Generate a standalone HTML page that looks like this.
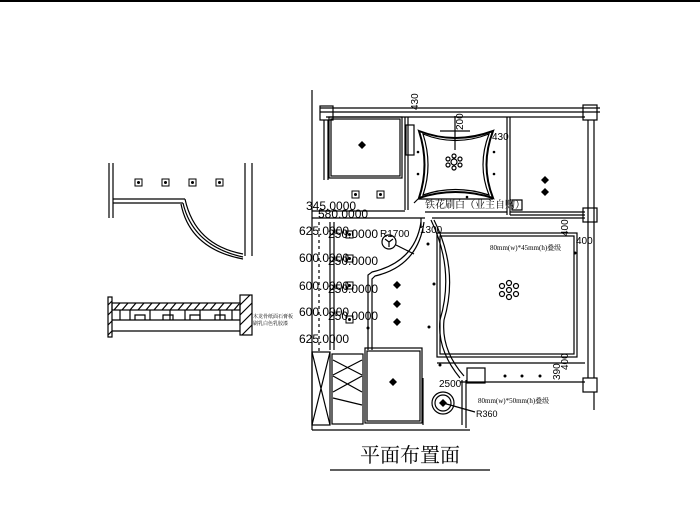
<!DOCTYPE html>
<html><head><meta charset="utf-8"><style>
html,body{margin:0;padding:0;background:#fff;}
svg{display:block;}
text{font-family:"Liberation Sans",sans-serif;fill:#000;}
.cn{font-family:"Liberation Serif","Noto Serif CJK SC",serif;}
</style></head><body>
<svg width="700" height="527" viewBox="0 0 700 527" xmlns="http://www.w3.org/2000/svg" fill="none" stroke="#000" stroke-width="1.2">
<line x1="0" y1="1" x2="700" y2="1" stroke-width="2"/>
<line x1="109" y1="163" x2="109" y2="218"/><line x1="113" y1="163" x2="113" y2="218"/>
<line x1="245" y1="163" x2="245" y2="256"/><line x1="252" y1="163" x2="252" y2="256"/>
<line x1="113" y1="199" x2="185" y2="199"/><line x1="113" y1="203" x2="183" y2="203"/>
<path d="M185 199 Q195 245 243 254"/><path d="M183 203 Q193 246 243 257"/><path d="M181 204 Q190 249 243 259"/>
<g stroke-width="1"><rect x="135" y="179" width="7" height="7"/><rect x="162" y="179" width="7" height="7"/><rect x="189" y="179" width="7" height="7"/><rect x="216" y="179" width="7" height="7"/></g>
<g fill="#000" stroke="none"><circle cx="138.5" cy="182.5" r="1.5"/><circle cx="165.5" cy="182.5" r="1.5"/><circle cx="192.5" cy="182.5" r="1.5"/><circle cx="219.5" cy="182.5" r="1.5"/></g>
<rect x="108" y="297" width="4" height="40"/><rect x="240" y="295" width="12" height="40"/>
<rect x="112" y="303" width="128" height="7"/>
<path d="M114 310 l6 -7 M122 310 l6 -7 M130 310 l6 -7 M138 310 l6 -7 M146 310 l6 -7 M154 310 l6 -7 M162 310 l6 -7 M170 310 l6 -7 M178 310 l6 -7 M186 310 l6 -7 M194 310 l6 -7 M202 310 l6 -7 M210 310 l6 -7 M218 310 l6 -7 M226 310 l6 -7 M234 310 l5 -6 M108 305 l4 -4 M108 315 l4 -4 M108 325 l4 -4 M108 335 l4 -4 M240 305 l10 -10 M240 315 l12 -12 M240 325 l12 -12 M242 335 l10 -10"/>
<line x1="112" y1="320" x2="240" y2="320"/><line x1="112" y1="331" x2="240" y2="331"/>
<path d="M120 310v10 M130 310v10 M150 310v10 M170 310v10 M185 310v10 M200 310v10 M220 310v10 M232 310v10"/>
<path d="M135 320v-5h10v5 M163 320v-5h10v5 M190 320v-5h10v5 M215 320v-5h10v5"/>
<text x="253" y="318" font-size="5" class="cn" stroke="none">木龙骨纸面石膏板</text>
<text x="253" y="325" font-size="5" class="cn" stroke="none">刷乳白色乳胶漆</text>
<line x1="312" y1="90" x2="312" y2="430"/>
<line x1="320" y1="108" x2="600" y2="108"/><line x1="320" y1="112" x2="600" y2="112"/><line x1="326" y1="117" x2="585" y2="117"/>
<rect x="320" y="106" width="13" height="14"/><rect x="583" y="105" width="14" height="15"/>
<rect x="583" y="208" width="14" height="14"/><rect x="583" y="378" width="14" height="14"/>
<line x1="588" y1="120" x2="588" y2="378"/><line x1="594" y1="120" x2="594" y2="378"/><line x1="594" y1="392" x2="594" y2="410"/>
<line x1="324" y1="120" x2="324" y2="180"/><line x1="328" y1="120" x2="328" y2="180"/>
<rect x="329" y="117" width="73" height="61"/><rect x="331" y="119" width="69" height="57"/>
<line x1="405" y1="117" x2="405" y2="210"/><line x1="408" y1="117" x2="408" y2="210"/>
<rect x="406" y="125" width="8" height="30"/>
<line x1="507" y1="117" x2="507" y2="215"/><line x1="510" y1="117" x2="510" y2="215"/>
<line x1="510" y1="212" x2="585" y2="212"/><line x1="510" y1="215" x2="585" y2="215"/>
<path d="M512 200 h10 v10 h-10z"/>
<path d="M419 131 Q455 145 493 131 Q480 165 493 198 Q455 186 419 198 Q430 165 419 131Z" stroke-width="2"/>
<path d="M423 134 Q455 147 489 134 Q477 165 489 195 Q455 184 423 195 Q433 165 423 134Z"/>
<line x1="440" y1="131" x2="470" y2="131"/><line x1="455" y1="116" x2="455" y2="150"/>
<line x1="418" y1="199" x2="493" y2="199"/><line x1="414" y1="203" x2="418" y2="199"/>
<g fill="none"><circle cx="454" cy="162" r="3"/><circle cx="454" cy="156" r="2"/><circle cx="454" cy="168" r="2"/><circle cx="448" cy="159" r="2"/><circle cx="460" cy="159" r="2"/><circle cx="448" cy="165" r="2"/><circle cx="460" cy="165" r="2"/></g>
<line x1="312" y1="211" x2="405" y2="211"/><line x1="312" y1="218" x2="425" y2="218"/><line x1="425" y1="212" x2="507" y2="212"/>
<line x1="421" y1="218" x2="421" y2="228"/><line x1="432" y1="218" x2="585" y2="218"/>
<line x1="330" y1="222" x2="330" y2="350"/><line x1="334" y1="222" x2="334" y2="350"/>
<path d="M421 222 Q415 262 372 272 L368 275 L368 350"/>
<path d="M424 222 Q418 266 375 276 L372 279 L372 350"/>
<path d="M431 220 Q455 270 440 320 Q437 350 460 378"/><path d="M434 220 Q459 270 444 320 Q441 350 464 376"/>
<rect x="437" y="233" width="140" height="124"/><rect x="440" y="236" width="134" height="118"/>
<g><circle cx="509" cy="290" r="2.5"/><circle cx="509" cy="283" r="2.5"/><circle cx="509" cy="297" r="2.5"/><circle cx="502" cy="286" r="2.5"/><circle cx="516" cy="286" r="2.5"/><circle cx="502" cy="294" r="2.5"/><circle cx="516" cy="294" r="2.5"/></g>
<line x1="437" y1="363" x2="585" y2="363"/><line x1="460" y1="382" x2="585" y2="382"/>
<rect x="467" y="368" width="18" height="15"/>
<rect x="312" y="352" width="18" height="73"/><path d="M312 352 L330 425 M330 352 L312 425"/>
<rect x="332" y="354" width="31" height="70"/>
<path d="M333 360 L362 375 M362 360 L333 375 M333 376 L362 392 M362 376 L333 392 M333 398 L362 405"/>
<rect x="365" y="348" width="57" height="75"/><rect x="367" y="351" width="53" height="70"/>
<line x1="423" y1="378" x2="423" y2="425"/><line x1="462" y1="380" x2="462" y2="425"/><line x1="466" y1="380" x2="466" y2="428"/>
<line x1="312" y1="430" x2="470" y2="430"/>
<circle cx="443" cy="403" r="11"/><circle cx="443" cy="403" r="8"/>
<line x1="443" y1="403" x2="475" y2="412"/>
<g fill="#000" stroke="none">
<path d="M362 141 l4 4 -4 4 -4 -4z"/><path d="M545 176 l4 4 -4 4 -4 -4z"/><path d="M545 188 l4 4 -4 4 -4 -4z"/>
<path d="M397 281 l4 4 -4 4 -4 -4z"/><path d="M397 300 l4 4 -4 4 -4 -4z"/><path d="M397 318 l4 4 -4 4 -4 -4z"/><path d="M393 378 l4 4 -4 4 -4 -4z"/>
<path d="M443 399 l4 4 -4 4 -4 -4z"/>
<circle cx="428" cy="244" r="1.5"/><circle cx="434" cy="284" r="1.5"/><circle cx="429" cy="327" r="1.5"/><circle cx="440" cy="365" r="1.5"/><circle cx="368" cy="328" r="1.5"/>
<circle cx="418" cy="152" r="1.3"/><circle cx="418" cy="174" r="1.3"/><circle cx="494" cy="152" r="1.3"/><circle cx="494" cy="174" r="1.3"/><circle cx="467" cy="197" r="1.3"/>
<circle cx="505" cy="376" r="1.5"/><circle cx="522" cy="376" r="1.5"/><circle cx="540" cy="376" r="1.5"/><circle cx="575" cy="253" r="1.5"/>
<circle cx="355.5" cy="194.5" r="1.5"/><circle cx="380.5" cy="194.5" r="1.5"/><circle cx="349.5" cy="234.5" r="1.5"/><circle cx="349.5" cy="258.5" r="1.5"/><circle cx="349.5" cy="285.5" r="1.5"/><circle cx="349.5" cy="319.5" r="1.5"/>
</g>
<g stroke-width="1"><rect x="352" y="191" width="7" height="7"/><rect x="377" y="191" width="7" height="7"/><rect x="346" y="231" width="7" height="7"/><rect x="346" y="255" width="7" height="7"/><rect x="346" y="282" width="7" height="7"/><rect x="346" y="316" width="7" height="7"/></g>
<circle cx="389" cy="242" r="7"/><path d="M389 242 l-4 -3 M389 242 l4 -3 M389 242 v5"/><line x1="396" y1="245" x2="414" y2="254"/>
<path d="M319 222 v130" stroke-dasharray="3 3"/>
<g stroke="none" font-size="12">
<text x="306" y="210">345.0000</text><text x="318" y="218">580.0000</text>
<text x="299" y="235">625.0000</text><text x="328" y="238">250.0000</text>
<text x="299" y="262">600.0000</text><text x="328" y="265">250.0000</text>
<text x="299" y="290">600.0000</text><text x="328" y="293">250.0000</text>
<text x="299" y="316">600.0000</text><text x="328" y="320">250.0000</text>
<text x="299" y="343">625.0000</text>
<text x="380" y="237" font-size="10">R1700</text>
<text x="420" y="233" font-size="10">1300</text>
<text x="439" y="387" font-size="10">2500</text>
<text x="476" y="417" font-size="9">R360</text>
<text x="492" y="140" font-size="10">430</text>
<text x="576" y="244" font-size="10">400</text>
<text class="cn" x="425" y="208" font-size="10">铁花刷白（业主自购）</text>
<text class="cn" x="490" y="250" font-size="7">80mm(w)*45mm(h)叠级</text>
<text class="cn" x="478" y="403" font-size="7">80mm(w)*50mm(h)叠级</text>
<text class="cn" x="360" y="462" font-size="20">平面布置面</text>
</g>
<g stroke="none" font-size="10">
<text transform="translate(418,110) rotate(-90)" x="0" y="0">430</text>
<text transform="translate(463,130) rotate(-90)">200</text>
<text transform="translate(568,236) rotate(-90)">400</text>
<text transform="translate(568,370) rotate(-90)">400</text>
<text transform="translate(560,380) rotate(-90)">390</text>
</g>
<line x1="330" y1="470" x2="490" y2="470"/>
</svg>
</body></html>
